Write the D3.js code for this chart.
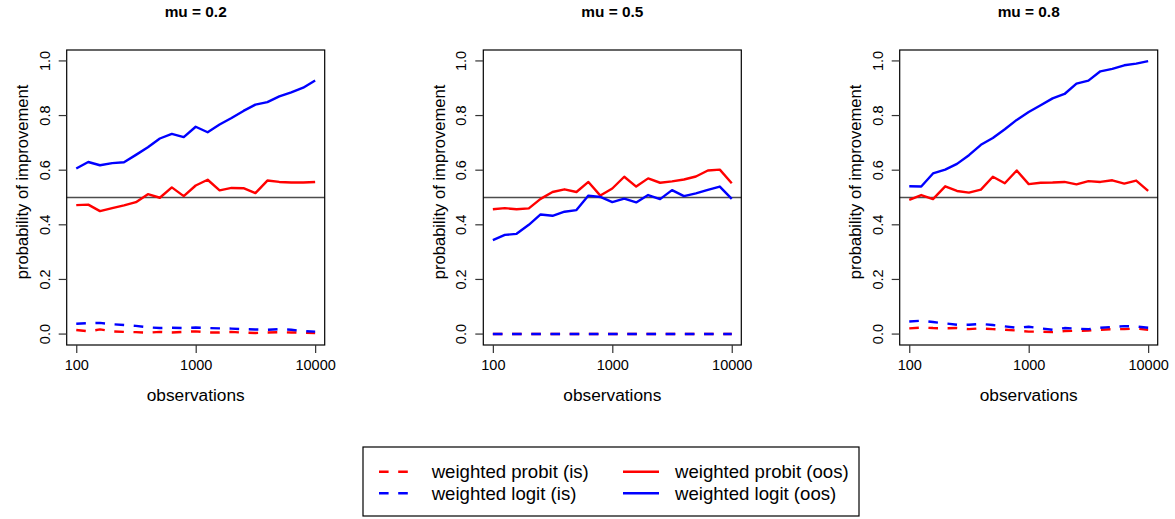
<!DOCTYPE html>
<html><head><meta charset="utf-8">
<script src="https://cdn.jsdelivr.net/npm/d3@7"></script>
<style>
body{margin:0;background:#fff;}
text{font-family:"Liberation Sans",Arial,Helvetica,sans-serif;fill:#000;}
</style></head>
<body><svg id="c" width="1175" height="519"></svg>
<script>
const observations=[100,126,158,200,251,316,398,501,631,794,1000,1259,1585,1995,2512,3162,3981,5012,6310,7943,10000];
const titles=["mu = 0.2","mu = 0.5","mu = 0.8"];
const xTicks=[100,1000,10000];
const yTicks=[0,0.2,0.4,0.6,0.8,1.0];
const seriesNames=["weighted probit (is)","weighted logit (is)","weighted probit (oos)","weighted logit (oos)"];
const seriesColors=["#ff0000","#0000ff","#ff0000","#0000ff"];
const seriesDashed=[true,true,false,false];

// mu = 0.2
const p1_probit_is=[0.015,0.010,0.017,0.010,0.008,0.007,0.005,0.008,0.006,0.008,0.010,0.006,0.006,0.008,0.005,0.004,0.006,0.007,0.006,0.005,0.004];
const p1_logit_is=[0.038,0.040,0.041,0.036,0.033,0.030,0.025,0.022,0.023,0.022,0.024,0.022,0.021,0.020,0.018,0.017,0.016,0.018,0.016,0.011,0.009];
const p1_probit_oos=[0.472,0.474,0.450,0.461,0.471,0.483,0.512,0.499,0.537,0.505,0.544,0.565,0.526,0.535,0.534,0.516,0.562,0.557,0.555,0.555,0.557];
const p1_logit_oos=[0.606,0.630,0.618,0.626,0.629,0.656,0.684,0.716,0.733,0.721,0.759,0.739,0.767,0.791,0.817,0.840,0.849,0.870,0.885,0.902,0.928];
// mu = 0.5
const p2_probit_is=[0,0,0,0,0,0,0,0,0,0,0,0,0,0,0,0,0,0,0,0,0];
const p2_logit_is=[0,0,0,0,0,0,0,0,0,0,0,0,0,0,0,0,0,0,0,0,0];
const p2_probit_oos=[0.457,0.461,0.457,0.460,0.495,0.520,0.530,0.520,0.557,0.507,0.533,0.576,0.540,0.570,0.554,0.559,0.566,0.577,0.599,0.602,0.552];
const p2_logit_oos=[0.344,0.363,0.367,0.400,0.438,0.433,0.448,0.454,0.507,0.502,0.483,0.496,0.482,0.509,0.494,0.527,0.505,0.515,0.528,0.540,0.495];
// mu = 0.8
const p3_probit_is=[0.021,0.024,0.022,0.021,0.022,0.018,0.021,0.018,0.016,0.013,0.009,0.009,0.007,0.011,0.012,0.013,0.016,0.018,0.018,0.020,0.016];
const p3_logit_is=[0.046,0.049,0.044,0.039,0.034,0.034,0.037,0.033,0.028,0.023,0.027,0.021,0.016,0.022,0.020,0.018,0.023,0.026,0.029,0.028,0.023];
const p3_probit_oos=[0.491,0.509,0.494,0.541,0.524,0.518,0.529,0.576,0.552,0.599,0.549,0.554,0.555,0.557,0.548,0.560,0.557,0.563,0.551,0.562,0.524];
const p3_logit_oos=[0.541,0.540,0.588,0.602,0.623,0.655,0.693,0.718,0.750,0.784,0.813,0.838,0.863,0.879,0.917,0.928,0.962,0.971,0.984,0.990,0.999];

const panels=[
 [p1_probit_is,p1_logit_is,p1_probit_oos,p1_logit_oos],
 [p2_probit_is,p2_logit_is,p2_probit_oos,p2_logit_oos],
 [p3_probit_is,p3_logit_is,p3_probit_oos,p3_logit_oos]
];

const svg=d3.select("#c");
const lefts=[66.7,483.3,899.7], W=258, plotTop=50, plotBottom=345;
const LW=2.4, DASH="9.6,9.6";

panels.forEach((series,pi)=>{
  const L=lefts[pi];
  const x=d3.scaleLog().domain([Math.pow(10,1.92),Math.pow(10,4.08)]).range([L,L+W]);
  const y=d3.scaleLinear().domain([-0.04,1.04]).range([plotBottom,plotTop]);
  const g=svg.append("g");
  g.append("line").attr("x1",L).attr("x2",L+W).attr("y1",y(0.5)).attr("y2",y(0.5))
    .attr("stroke","#4d4d4d").attr("stroke-width",1.3);
  const line=d3.line().x((d,i)=>x(observations[i])).y(d=>y(d));
  series.forEach((s,si)=>{
    g.append("path").datum(s).attr("d",line).attr("fill","none")
     .attr("stroke",seriesColors[si]).attr("stroke-width",LW)
     .attr("stroke-dasharray",seriesDashed[si]?DASH:null)
     .attr("stroke-linejoin","round");
  });
  g.append("rect").attr("x",L).attr("y",plotTop).attr("width",W).attr("height",plotBottom-plotTop)
    .attr("fill","none").attr("stroke","#000").attr("stroke-width",1.2);
  const xa=g.append("g").attr("transform",`translate(0,${plotBottom})`)
    .call(d3.axisBottom(x).tickValues(xTicks).tickFormat(d3.format("d")).tickSize(8).tickPadding(7));
  xa.select(".domain").remove();
  xa.selectAll("line").attr("stroke","#333").attr("stroke-width",1.2);
  xa.selectAll("text").attr("font-size","14.5px").style("font-family","Liberation Sans, Arial, sans-serif");
  const ya=g.append("g").attr("transform",`translate(${L},0)`)
    .call(d3.axisLeft(y).tickValues(yTicks).tickFormat(d3.format(".1f")).tickSize(8).tickPadding(0));
  ya.select(".domain").remove();
  ya.selectAll("line").attr("stroke","#333").attr("stroke-width",1.2);
  ya.selectAll(".tick").attr("transform",null);
  ya.selectAll(".tick line").attr("y1",d=>y(d)).attr("y2",d=>y(d));
  ya.selectAll("text").attr("font-size","14.5px").style("font-family","Liberation Sans, Arial, sans-serif")
    .attr("text-anchor","middle").attr("x",null).attr("dy",null).attr("y",null)
    .attr("transform",d=>`translate(${-17},${y(d)}) rotate(-90)`);
  g.append("text").attr("x",L+W/2).attr("y",401).attr("text-anchor","middle")
    .attr("font-size","17.3px").text("observations");
  g.append("text").attr("transform",`translate(${L-38.5},${182}) rotate(-90)`).attr("text-anchor","middle")
    .attr("font-size","16.6px").text("probability of improvement");
  g.append("text").attr("x",L+W/2).attr("y",16.5).attr("text-anchor","middle")
    .attr("font-size","15.4px").attr("font-weight","bold").text(titles[pi]);
});

const lg=svg.append("g");
lg.append("rect").attr("x",363).attr("y",447).attr("width",496).attr("height",69)
  .attr("fill","none").attr("stroke","#000").attr("stroke-width",1.2);
const legendPos=[[379,408,431.7,471.7],[379,408,431.7,493.3],[623,659,675,471.7],[623,659,675,493.3]];
seriesNames.forEach((n,i)=>{
  const p=legendPos[i];
  lg.append("line").attr("x1",p[0]).attr("x2",p[1]).attr("y1",p[3]).attr("y2",p[3])
    .attr("stroke",seriesColors[i]).attr("stroke-width",LW)
    .attr("stroke-dasharray",seriesDashed[i]?DASH:null);
  lg.append("text").attr("x",p[2]).attr("y",p[3]+6.5).attr("font-size","18.6px").text(n);
});
</script></body></html>
